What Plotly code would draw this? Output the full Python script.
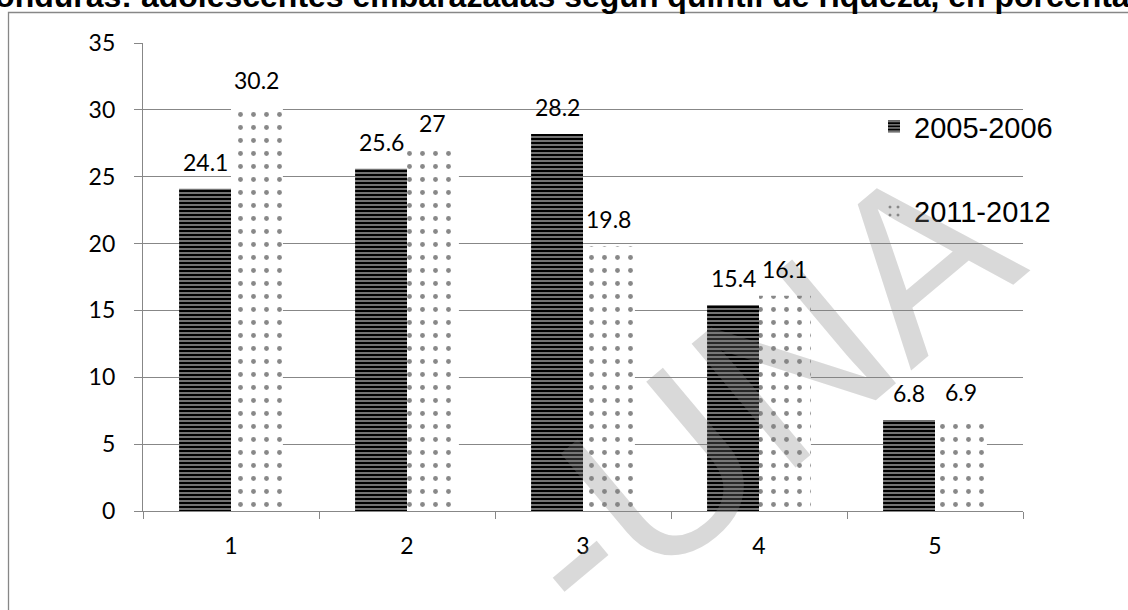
import plotly.graph_objects as go

categories = ["1", "2", "3", "4", "5"]
series_names = ["2005-2006", "2011-2012"]
values_2005 = [24.1, 25.6, 28.2, 15.4, 6.8]
values_2011 = [30.2, 27, 19.8, 16.1, 6.9]
y_ticks = [0, 5, 10, 15, 20, 25, 30, 35]
title_text = "Honduras: adolescentes embarazadas según quintil de riqueza, en porcentaje"
watermark_text = "-UNA"

W, H = 1128, 610
ML, MR, MT, MB = 143, 105, 43, 99
PW, PH = W - ML - MR, H - MT - MB
BARGAP = 0.41

def px_x(p):
    return (p - ML) / PW

def px_y(p):
    return (H - MB - p) / PH

GRID = "#878787"
LABEL_FONT = dict(family="Lato", size=23, color="black")

fig = go.Figure()
fig.add_trace(go.Bar(
    x=categories, y=values_2005, name=series_names[0], legendgroup="a",
    marker=dict(color="black", line=dict(width=0),
                pattern=dict(shape="-", fgcolor="white", bgcolor="black",
                             size=4, solidity=0.45)),
))
fig.add_trace(go.Bar(
    x=categories, y=values_2011, name=series_names[1], legendgroup="b",
    marker=dict(color="white", line=dict(width=0),
                pattern=dict(shape=".", fgcolor="#111111", bgcolor="white",
                             size=13, solidity=0.11)),
))

annotations = []
annotations.append(dict(
    text=watermark_text, xref="paper", yref="paper", x=px_x(758), y=px_y(392),
    xanchor="center", yanchor="middle", showarrow=False, textangle=-40,
    font=dict(family="Liberation Sans", size=235, color="rgba(128,128,128,0.3)"),
))
bar_half = PW / len(categories) * (1 - BARGAP) / 4
for vals, sgn in ((values_2005, -1), (values_2011, 1)):
    for i, v in enumerate(vals):
        annotations.append(dict(
            text=f"{v:g}", x=i, y=v, xref="x", yref="y", showarrow=False,
            xanchor="center", yanchor="middle", xshift=sgn * bar_half, yshift=27,
            font=LABEL_FONT,
        ))
annotations.append(dict(
    text=title_text, xref="paper", yref="paper", x=px_x(564), y=px_y(-4),
    xanchor="center", yanchor="middle", showarrow=False,
    font=dict(family="Liberation Sans", size=32, color="black", weight="bold"),
))

fig.update_layout(
    width=W, height=H,
    margin=dict(l=ML, r=MR, t=MT, b=MB, pad=0),
    paper_bgcolor="white", plot_bgcolor="white",
    barmode="group", bargap=BARGAP, bargroupgap=0,
    showlegend=True,
    legend=dict(x=px_x(874), y=px_y(101), xanchor="left", yanchor="top",
                font=dict(family="Liberation Sans", size=29, color="black"),
                tracegroupgap=44, bgcolor="rgba(0,0,0,0)", borderwidth=0,
                traceorder="grouped"),
    xaxis=dict(type="category", categoryorder="array", categoryarray=categories,
               range=[-0.5, len(categories) - 0.5],
               tickson="boundaries", ticks="outside", ticklen=7, tickcolor=GRID,
               tickwidth=1.3, showline=True, linecolor=GRID, linewidth=1.3,
               showgrid=False, tickfont=LABEL_FONT, ticklabelstandoff=14),
    yaxis=dict(range=[0, 35], tickvals=y_ticks, showgrid=True, gridcolor=GRID,
               gridwidth=1.3, showline=True, linecolor=GRID, linewidth=1.3,
               ticks="outside", ticklen=8, tickcolor=GRID, tickwidth=1.3,
               tickfont=LABEL_FONT, ticklabelstandoff=14, zeroline=False),
    shapes=[dict(type="rect", xref="paper", yref="paper",
                 x0=px_x(8.5), x1=px_x(1300), y0=px_y(800), y1=px_y(12.5),
                 line=dict(color=GRID, width=1.3), fillcolor="rgba(0,0,0,0)",
                 layer="below")],
    annotations=annotations,
)

fig.write_html("out.html", config={"displayModeBar": False},
               post_script="document.body.style.margin='0';document.body.style.overflow='hidden';")
